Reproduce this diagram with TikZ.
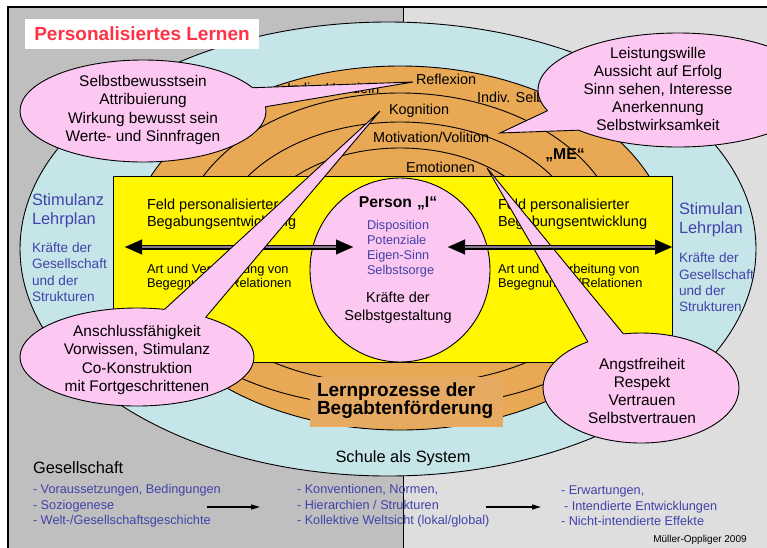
\documentclass[tikz,border=0pt]{standalone}
\usepackage{fontspec}
\setmainfont{Liberation Sans}
\usetikzlibrary{shapes.geometric,arrows.meta}
\definecolor{greyL}{RGB}{191,191,191}
\definecolor{greyR}{RGB}{222,222,222}
\definecolor{cyanc}{RGB}{198,229,233}
\definecolor{orangec}{RGB}{232,168,84}
\definecolor{labelc}{RGB}{230,170,98}
\definecolor{yellowc}{RGB}{255,246,0}
\definecolor{pinkc}{RGB}{252,199,240}
\definecolor{bluec}{RGB}{66,66,170}
\definecolor{titlered}{RGB}{255,50,70}
\definecolor{shaftc}{RGB}{140,120,140}
\newcommand\setfs[2]{\fontsize{#1}{#2}\selectfont}

\begin{document}
\begin{tikzpicture}[x=1pt,y=-1pt,
  every node/.style={inner sep=0pt,outer sep=0pt},
  edgeline/.style={line width=0.9pt},
  bubble/.style={ellipse,draw=black,line width=0.9pt,fill=pinkc},
  bubbletext/.style={align=center,font=\setfs{15.4}{18.2}},
  ring/.style={anchor=base west,font=\setfs{14.4}{17}},
  field/.style={anchor=west,align=left,font=\setfs{14.5}{17}},
  fieldsub/.style={anchor=west,align=left,font=\setfs{12.8}{14.5}},
  side/.style={anchor=west,align=left,text=bluec,font=\setfs{16.4}{19}},
  sidesub/.style={anchor=west,align=left,text=bluec,font=\setfs{13.6}{16.3}},
  bullets/.style={anchor=west,align=left,text=bluec,font=\setfs{12.7}{15.5}},
  bigarrow/.style={line width=5pt,{Triangle[length=17pt,width=15pt,line width=0.1pt]}-{Triangle[length=17pt,width=15pt,line width=0.1pt]}},
  arrowcore/.style={line width=1.6pt,draw=shaftc,shorten <=17pt,shorten >=17pt},
  smallarrow/.style={line width=1.4pt,-{Triangle[length=9pt,width=5pt]}}
]
\useasboundingbox (0,0) rectangle (767,547);
\clip (0,0) rectangle (767,547);

% background halves and frame
\fill[white] (0,0) rectangle (767,547);
\fill[greyL] (8,7) rectangle (403,560);
\fill[greyR] (403,7) rectangle (780,560);
\draw[line width=0.8pt] (403,7) -- (403,560);
\draw[line width=2.5pt] (8,560) -- (8,7) -- (780,7);

% school as system
\filldraw[fill=cyanc,edgeline] (388,249) ellipse [x radius=368, y radius=227];

% title
\node[fill=white,minimum width=234pt,minimum height=30pt,text=titlered,
      font=\bfseries\setfs{19}{22}] (title) at (142,34) {Personalisiertes Lernen};

% learning process rings
\filldraw[fill=orangec,edgeline] (400,248) ellipse [x radius=271, y radius=182];
\draw[edgeline] (178,248) arc[start angle=180,end angle=360,x radius=222,y radius=155];
\draw[edgeline] (215,248) arc[start angle=180,end angle=360,x radius=185,y radius=126];
\draw[edgeline] (250,248) arc[start angle=180,end angle=360,x radius=150,y radius=100];
\draw[edgeline] (586,300) arc[start angle=0,end angle=180,x radius=186,y radius=85];
\draw[edgeline] (630,300) arc[start angle=0,end angle=180,x radius=230,y radius=108];

\node[ring] (indh) at (287,93) {Indiv. Handeln};
\node[ring] (inds) at (477,102) {Indiv. Selbstkonzept};
\node[ring] (refl) at (416,84) {Reflexion};
\node[ring] (kogn) at (389,114) {Kognition};
\node[ring] (moti) at (373,142) {Motivation/Volition};
\node[ring] (emot) at (406,172) {Emotionen};
\node[font=\bfseries\setfs{15.7}{18}] (me) at (565,155) {„ME“};

\fill[labelc] (310,377) rectangle (503,427);
\node[anchor=west,align=left,font=\bfseries\setfs{19}{18}] (lern) at (317,401) {Lernprozesse der\\Begabtenförderung};

% field of development
\filldraw[fill=yellowc,edgeline] (113,176) rectangle (672,362);
\node[field] (fl) at (147,214.5) {Feld personalisierter\\Begabungsentwicklung};
\node[fieldsub] (al) at (147,277) {Art und Verarbeitung von\\Begegnungen/Relationen};
\node[field] (fr) at (498,214.5) {Feld personalisierter\\Begabungsentwicklung};
\node[fieldsub] (ar) at (498,277) {Art und Verarbeitung von\\Begegnungen/Relationen};

% person
\node[ellipse,draw=black,line width=0.9pt,fill=pinkc,minimum width=180pt,minimum height=184pt] (person) at (400,270) {};
\node[anchor=base,font=\bfseries\setfs{15.7}{18}] (ptitle) at (398,207.5) {Person\hskip5pt„I“};
\node[anchor=west,align=left,text=bluec,font=\setfs{12.7}{15}] (pdisp) at (367,249) {Disposition\\Potenziale\\Eigen-Sinn\\Selbstsorge};
\node[align=center,font=\setfs{14.5}{18}] (pkraft) at (398,308) {Kräfte der\\Selbstgestaltung};

% arrow between society and person (left side)
\coordinate (la) at (125,247); \coordinate (lb) at (353,247);
\coordinate (ra) at (448,247); \coordinate (rb) at (672,247);
\draw[bigarrow] (la) -- (lb); \draw[arrowcore] (la) -- (lb);

% side texts
\node[side] (sl) at (32,211) {Stimulanz\\Lehrplan};
\node[sidesub] (kl) at (32,272) {Kräfte der\\Gesellschaft\\und der\\Strukturen};
\node[side] (sr) at (679,220) {Stimulan\\Lehrplan};
\node[sidesub] (kr) at (679,282.5) {Kräfte der\\Gesellschaft\\und der\\Strukturen};

\node[anchor=base,font=\setfs{16.4}{19}] (schule) at (403,462.5) {Schule als System};

% society
\node[anchor=base west,font=\setfs{16.4}{19}] (ges) at (33,473) {Gesellschaft};
\node[bullets] (b1) at (33,506) {- Voraussetzungen, Bedingungen\\- Soziogenese\\- Welt-/Gesellschaftsgeschichte};
\node[bullets] (b2) at (297,506) {- Konventionen, Normen,\\- Hierarchien / Strukturen\\- Kollektive Weltsicht (lokal/global)};
\node[bullets] (b3) at (561,506) {- Erwartungen,\\\hspace*{3pt}- Intendierte Entwicklungen\\- Nicht-intendierte Effekte};
\coordinate (g1) at (207,507); \coordinate (g2) at (260,507);
\coordinate (g3) at (486,507); \coordinate (g4) at (541,507);
\draw[smallarrow] (g1) -- (g2);
\draw[smallarrow] (g3) -- (g4);
\node[anchor=base,font=\setfs{10}{12}] (credit) at (700,542) {Müller-Oppliger 2009};

% speech bubbles
\coordinate (t1) at (413,82);
\coordinate (t2) at (500,133);
\coordinate (t3) at (380,111);
\coordinate (t4) at (487,168);

\node[bubble,minimum width=246pt,minimum height=102pt] (c1) at (143,111) {};
\fill[pinkc] (c1.12) -- (t1) -- (c1.2) -- (c1.center) -- cycle;
\draw[edgeline,line join=miter] (c1.12) -- (t1) -- (c1.2);
\node[bubbletext] (c1t) at (143,110) {Selbstbewusstsein\\Attribuierung\\Wirkung bewusst sein\\Werte- und Sinnfragen};

\node[bubble,minimum width=280pt,minimum height=114pt] (c2) at (678,90) {};
\fill[pinkc] (c2.189) -- (t2) -- (c2.202) -- (c2.center) -- cycle;
\draw[edgeline,line join=miter] (c2.189) -- (t2) -- (c2.202);
\node[bubbletext] (c2t) at (658,89) {Leistungswille\\Aussicht auf Erfolg\\Sinn sehen, Interesse\\Anerkennung\\Selbstwirksamkeit};

\node[bubble,minimum width=234pt,minimum height=98pt] (c3) at (137,357) {};
\fill[pinkc] (c3.60) -- (t3) -- (c3.30) -- (c3.center) -- cycle;
\draw[edgeline,line join=miter] (c3.60) -- (t3) -- (c3.30);
\node[bubbletext] (c3t) at (137,360) {Anschlussfähigkeit\\Vorwissen, Stimulanz\\Co-Konstruktion\\mit Fortgeschrittenen};

\node[bubble,minimum width=196pt,minimum height=110pt] (c4) at (641,388) {};
\fill[pinkc] (c4.139) -- (t4) -- (c4.108) -- (c4.center) -- cycle;
\draw[edgeline,line join=miter] (c4.139) -- (t4) -- (c4.108);
\node[bubbletext] (c4t) at (642,391) {Angstfreiheit\\Respekt\\Vertrauen\\Selbstvertrauen};

% arrow between person and society (right side), lying over the bubble tail
\draw[bigarrow] (ra) -- (rb); \draw[arrowcore] (ra) -- (rb);
\end{tikzpicture}
\end{document}
